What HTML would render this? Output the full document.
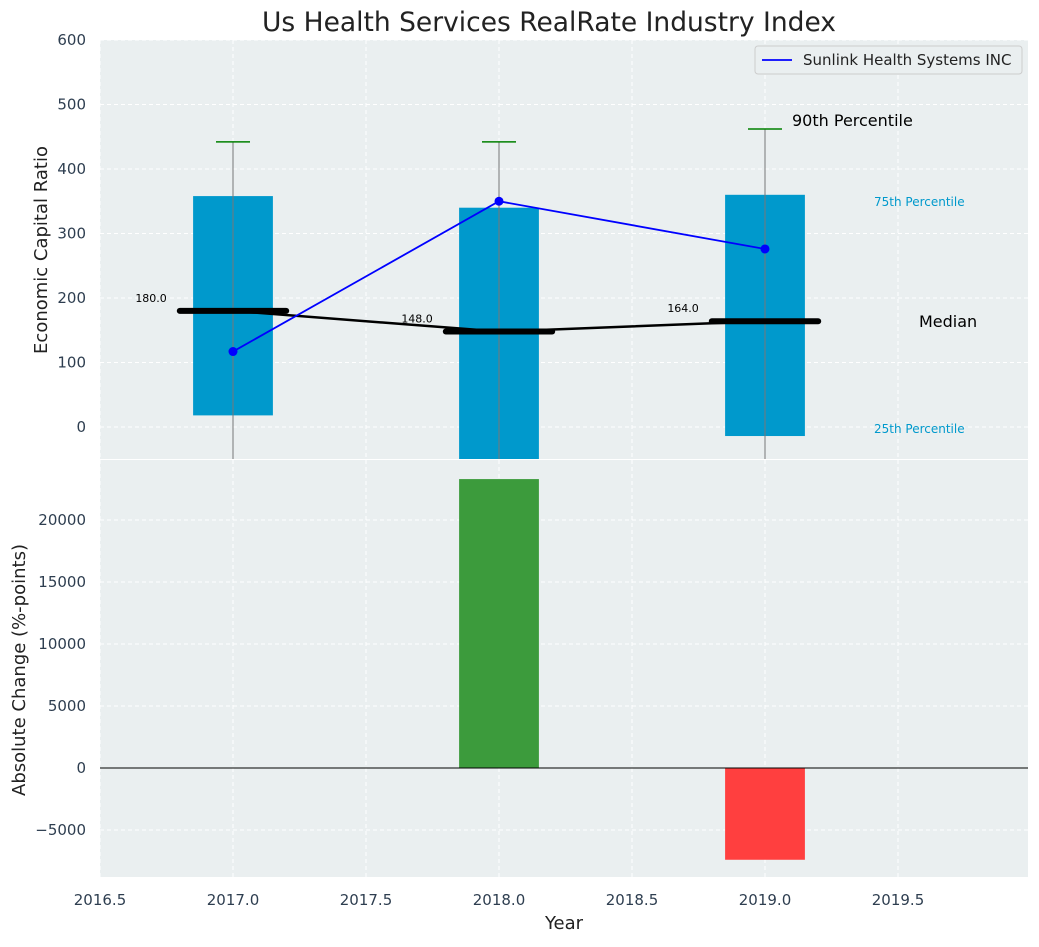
<!DOCTYPE html>
<html><head><meta charset="utf-8"><style>
body{margin:0;background:#fff;}
svg text{font-family:"DejaVu Sans","Liberation Sans",sans-serif;}
</style></head><body>
<svg id="c" width="1039" height="942" xmlns="http://www.w3.org/2000/svg"></svg>
<script>
const years=[2017,2018,2019];
const p25=[18,-60,-14];
const p75=[358,340,360];
const p90=[442,442,462];
const medians=[180,148,164];
const company=[117,350,276];
const changes=[0,23300,-7400];
const xTicks=[2016.5,2017,2017.5,2018,2018.5,2019,2019.5];
const yTopTicks=[0,100,200,300,400,500,600];
const yBotTicks=[-5000,0,5000,10000,15000,20000];

const NS="http://www.w3.org/2000/svg";
const svg=document.getElementById('c');
function el(t,a,p){const e=document.createElementNS(NS,t);for(const k in a)e.setAttribute(k,a[k]);(p||svg).appendChild(e);return e;}
const L=100,R=1028,T1=40,B1=459,T2=460,B2=877;
const x=v=>L+(v-2016.5)*266;
const yT=v=>427-v*0.645;
const yB=v=>768-v*0.0124;

el('rect',{x:L,y:T1,width:R-L,height:B1-T1,fill:'#eaeff0'});
el('rect',{x:L,y:T2,width:R-L,height:B2-T2,fill:'#eaeff0'});

xTicks.forEach(v=>{
 let g=el('line',{x1:x(v),x2:x(v),y1:T1,y2:B1,stroke:'#fff','stroke-dasharray':'4,3'});
 
 g=el('line',{x1:x(v),x2:x(v),y1:T2,y2:B2,stroke:'#fff','stroke-dasharray':'4,3'});
 
 const t=el('text',{x:x(v),y:905,'text-anchor':'middle','font-size':15,fill:'#2e3e50'});t.textContent=v.toFixed(1);
 
});
yTopTicks.forEach(v=>{
 const g=el('line',{x1:L,x2:R,y1:yT(v),y2:yT(v),stroke:'#fff','stroke-dasharray':'4,3'});
 
 const t=el('text',{x:86,y:yT(v)+5,'text-anchor':'end','font-size':15,fill:'#2e3e50'});t.textContent=v;
 
});
yBotTicks.forEach(v=>{
 const g=el('line',{x1:L,x2:R,y1:yB(v),y2:yB(v),stroke:'#fff','stroke-dasharray':'4,3'});
 
 const t=el('text',{x:86,y:yB(v)+5,'text-anchor':'end','font-size':15,fill:'#2e3e50'});t.textContent=(v<0?'\u2212'+(-v):v);
 
});

const cp=el('clipPath',{id:'ct'});el('rect',{x:L,y:T1,width:R-L,height:B1-T1},cp);
const gT=el('g',{'clip-path':'url(#ct)'});
years.forEach((yr,i)=>{
 const b=el('rect',{x:x(yr-0.15),y:yT(p75[i]),width:0.3*266,height:yT(p25[i])-yT(p75[i]),fill:'#0099cc'},gT);
 
 const w=el('line',{x1:x(yr),x2:x(yr),y1:yT(p90[i]),y2:B1+5,stroke:'#777','stroke-width':1},gT);
 
 const c=el('line',{x1:x(yr)-17,x2:x(yr)+17,y1:yT(p90[i]),y2:yT(p90[i]),stroke:'green','stroke-width':1.5},gT);
 
 const m=el('line',{x1:x(yr-0.2),x2:x(yr+0.2),y1:yT(medians[i]),y2:yT(medians[i]),stroke:'#000','stroke-width':6,'stroke-linecap':'round'},gT);
 
 const ml=el('text',{x:x(yr-0.23)-5,y:yT(medians[i])-9,'text-anchor':'end','font-size':11,fill:'#000'});ml.textContent=medians[i].toFixed(1);
 
});
let mp=el('polyline',{points:years.map((y,i)=>x(y)+','+yT(medians[i])).join(' '),fill:'none',stroke:'#000','stroke-width':2.5},gT);

let cl=el('polyline',{points:years.map((y,i)=>x(y)+','+yT(company[i])).join(' '),fill:'none',stroke:'blue','stroke-width':1.8},gT);

years.forEach((y,i)=>{const d=el('circle',{cx:x(y),cy:yT(company[i]),r:4.5,fill:'blue'},gT);});

[['90th Percentile',792,126,16,'#000'],['75th Percentile',874,206,12,'#0099cc'],['Median',919,327,16,'#000'],['25th Percentile',874,433,12,'#0099cc']].forEach(a=>{
 const t=el('text',{x:a[1],y:a[2],'font-size':a[3],fill:a[4]});t.textContent=a[0];
 
});

const lg=el('g',{});
el('rect',{x:755,y:46,width:267,height:28,fill:'#eaeff0',stroke:'#ccc',rx:3},lg);
el('line',{x1:762,x2:792,y1:60,y2:60,stroke:'blue','stroke-width':1.8},lg);
const lt=el('text',{x:803,y:65,'font-size':15,fill:'#222'},lg);lt.textContent='Sunlink Health Systems INC';

years.forEach((yr,i)=>{
 if(!changes[i])return;
 const v=changes[i];
 const b=el('rect',{x:x(yr-0.15),y:Math.min(yB(v),yB(0)),width:0.3*266,height:Math.abs(yB(v)-yB(0)),fill:v>0?'#3c9b3c':'#ff3f3f'});
 
});
const zl=el('line',{x1:L,x2:R,y1:yB(0),y2:yB(0),stroke:'#000','stroke-width':1});

let t=el('text',{x:549,y:31,'text-anchor':'middle','font-size':26.5,fill:'#222'});t.textContent='Us Health Services RealRate Industry Index';
t=el('text',{x:564,y:929,'text-anchor':'middle','font-size':18,fill:'#222'});t.textContent='Year';
t=el('text',{x:0,y:0,'text-anchor':'middle','font-size':18,fill:'#222',transform:'translate(47,250) rotate(-90)'});t.textContent='Economic Capital Ratio';
t=el('text',{x:0,y:0,'text-anchor':'middle','font-size':18,fill:'#222',transform:'translate(25,670) rotate(-90)'});t.textContent='Absolute Change (%-points)';
</script>
</body></html>
